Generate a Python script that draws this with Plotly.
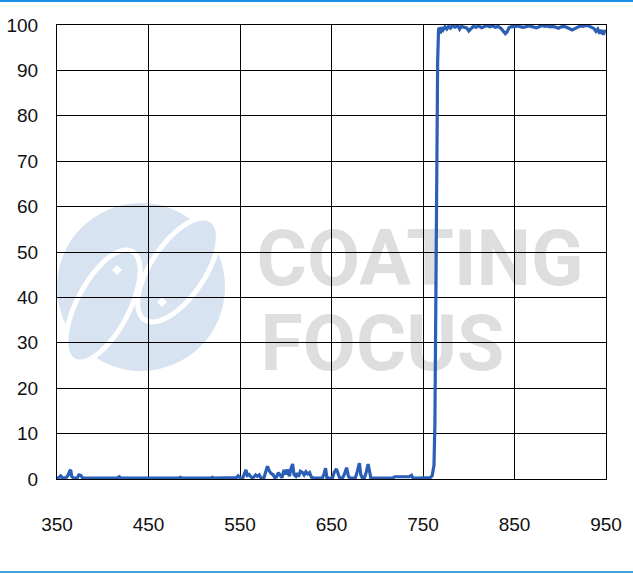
import numpy as np
import plotly.graph_objects as go

# ---------------- data ----------------
wavelength = [
    350, 352, 354, 356, 360, 362, 364, 365, 366, 368, 372, 374, 376, 378, 390,
    416, 418, 420, 450, 483, 485, 487, 518, 520, 522, 540, 546, 548, 550,
    553, 555, 556.5, 558, 560, 561, 563, 565, 567, 569, 571, 573, 576, 578, 580,
    582, 584, 586, 588, 590, 592, 594, 596, 598, 600, 602, 604, 606, 607.5, 609,
    611, 612.5, 614, 616, 618, 620, 622, 624, 626, 628, 631, 636, 640, 642,
    643.5, 645, 648, 651, 653, 655.5, 657.5, 659, 662, 664, 666.5, 668.5, 670,
    676, 678, 680.5, 682, 683.5, 686, 688, 690, 691.5, 693, 700,
    710, 717, 719, 730, 735, 737.5, 739, 745, 750, 758, 760, 761, 762, 763,
    764, 765, 766, 767,
    768, 769, 770, 772, 774, 776, 778, 780, 782, 785, 788, 790, 792, 795, 798,
    800, 802, 805, 808, 811, 814, 817, 820, 823, 826, 829, 832, 835, 838, 840,
    842, 844, 847, 850, 853, 856, 859, 862, 865, 868, 871, 874, 877, 880, 883,
    886, 889, 892, 895, 898, 901, 904, 907, 910, 913, 916, 919, 922, 925, 928,
    931, 934, 937, 939, 941, 943, 945, 947, 949, 950,
]
transmission = [
    0.2, 0.3, 0.7, 0.2, 0.3, 0.8, 1.8, 2.0, 0.6, 0.2, 0.2, 0.9, 0.8, 0.2, 0.2,
    0.2, 0.5, 0.2, 0.2, 0.2, 0.4, 0.2, 0.2, 0.4, 0.2, 0.2, 0.3, 0.7, 0.3,
    0.2, 1.2, 2.0, 0.8, 1.0, 0.7, 0.3, 0.4, 0.9, 0.6, 0.9, 0.2, 0.2, 1.5, 2.8,
    1.8, 1.2, 1.0, 0.3, 0.5, 1.4, 0.8, 0.3, 2.0, 1.0, 2.1, 0.6, 2.5, 3.3, 1.0,
    0.6, 1.3, 0.5, 1.7, 1.5, 0.9, 1.6, 1.1, 1.4, 0.4, 0.2, 0.2, 0.2, 1.2,
    2.4, 0.2, 0.2, 0.2, 1.5, 2.2, 1.0, 0.2, 0.2, 1.0, 2.5, 0.6, 0.2,
    0.2, 1.5, 3.5, 1.0, 0.3, 0.3, 1.5, 3.3, 1.2, 0.2, 0.2,
    0.2, 0.2, 0.5, 0.5, 0.5, 0.8, 0.2, 0.2, 0.3, 0.3, 0.7, 2.5, 3.0, 12,
    40, 70, 92, 99.0,
    99.4, 98.1, 99.5, 98.9, 99.6, 99.1, 99.7, 99.3, 99.8, 99.5, 99.9, 99.1, 99.7, 99.5, 99.3,
    98.7, 99.2, 99.7, 99.5, 99.8, 99.4, 99.7, 99.9, 99.6, 99.8, 99.5, 99.7, 99.3, 98.7, 98.1,
    98.5, 99.4, 99.7, 99.6, 99.8, 99.7, 99.5, 99.6, 99.8, 99.7, 99.5, 99.4, 99.6, 99.9, 99.7,
    99.8, 99.6, 99.7, 99.5, 99.3, 99.6, 99.7, 99.5, 99.2, 98.9, 99.2, 99.6, 99.8, 99.7, 99.9,
    99.8, 99.5, 99.2, 98.6, 99.1, 98.1, 98.9, 97.9, 98.8, 98.5,
]
x_ticks = [350, 450, 550, 650, 750, 850, 950]
y_ticks = [0, 10, 20, 30, 40, 50, 60, 70, 80, 90, 100]

# ---------------- geometry helpers (watermark decoration) ----------------
W, H = 633, 574
L, R, T, B = 57, 606, 25, 479


def px2paper(px, py):
    return (px - L) / (R - L), (B - py) / (B - T)


def ellipse_path(cx, cy, a, b, ang, n=72):
    t = np.linspace(0, 2 * np.pi, n, endpoint=False)
    th = np.deg2rad(ang)
    xs = cx + a * np.cos(t) * np.cos(th) - b * np.sin(t) * np.sin(th)
    ys = cy + a * np.cos(t) * np.sin(th) + b * np.sin(t) * np.cos(th)
    pts = [px2paper(x, y) for x, y in zip(xs, ys)]
    return "M " + " L ".join(f"{x:.4f},{y:.4f}" for x, y in pts) + " Z"


def diamond_path(cx, cy, r):
    pts = [px2paper(cx, cy - r), px2paper(cx + r, cy), px2paper(cx, cy + r), px2paper(cx - r, cy)]
    return "M " + " L ".join(f"{x:.4f},{y:.4f}" for x, y in pts) + " Z"


logo_blue = "#D7E3F0"
shapes = []
cx0, cy0 = px2paper(141 - 84, 287 + 84)
cx1, cy1 = px2paper(141 + 84, 287 - 84)
shapes.append(dict(type="circle", xref="paper", yref="paper", x0=cx0, y0=cy0,
                   x1=cx1, y1=cy1, fillcolor=logo_blue, line=dict(width=0), layer="below"))
for (cx, cy, a, b, ang) in [(178, 270, 60, 27, -56), (103, 306, 62, 26, -62)]:
    shapes.append(dict(type="path", xref="paper", yref="paper", path=ellipse_path(cx, cy, a, b, ang),
                       fillcolor=logo_blue, line=dict(color="white", width=5), layer="below"))
for (cx, cy) in [(117, 270), (162, 302)]:
    shapes.append(dict(type="path", xref="paper", yref="paper", path=diamond_path(cx, cy, 5),
                       fillcolor="white", line=dict(width=0), layer="below"))

# watermark text as shape labels (kept below gridlines)
for txt, (x0p, x1p, ycen) in [("COATING", (250, 590, 253)), ("FOCUS", (255, 510, 338))]:
    ax0, ay0 = px2paper(x0p, ycen + 35)
    ax1, ay1 = px2paper(x1p, ycen - 35)
    shapes.append(dict(type="rect", xref="paper", yref="paper", x0=ax0, y0=ay0, x1=ax1, y1=ay1,
                       line=dict(width=0), fillcolor="rgba(0,0,0,0)", layer="below",
                       label=dict(text=f"<b>{txt}</b>", textposition="middle center",
                                  font=dict(family="Roboto", size=77, color="#DEDEDE"))))

# decorative blue page rules
for py, col in [(1, "#1E8FE6"), (572, "#3CA3DF")]:
    xa, ya = px2paper(0, py)
    xb, _ = px2paper(W, py)
    shapes.append(dict(type="line", xref="paper", yref="paper", x0=xa, x1=xb, y0=ya, y1=ya,
                       line=dict(color=col, width=2), layer="above"))

# ---------------- figure ----------------
fig = go.Figure()
fig.add_trace(go.Scatter(x=wavelength, y=transmission, mode="lines",
                         line=dict(color="#2B5FB5", width=3.2), hoverinfo="x+y"))

tick_font = dict(family="Liberation Sans, Arial, sans-serif", size=19, color="#111111")
fig.update_layout(
    width=W, height=H,
    margin=dict(l=L, r=W - R, t=T, b=H - B, pad=0, autoexpand=False),
    paper_bgcolor="white", plot_bgcolor="white",
    showlegend=False,
    shapes=shapes,
    xaxis=dict(range=[350, 950], tickvals=x_ticks, ticktext=[str(v) for v in x_ticks],
               showgrid=True, gridcolor="#000000", gridwidth=1,
               showline=True, linecolor="#000000", linewidth=1, mirror=True,
               zeroline=False, ticks="outside", ticklen=28, tickcolor="rgba(0,0,0,0)",
               tickfont=tick_font, automargin=False),
    yaxis=dict(range=[0, 100], tickvals=y_ticks, ticktext=[str(v) for v in y_ticks],
               showgrid=True, gridcolor="#000000", gridwidth=1,
               showline=True, linecolor="#000000", linewidth=1, mirror=True,
               zeroline=False, ticks="outside", ticklen=14, tickcolor="rgba(0,0,0,0)",
               tickfont=tick_font, automargin=False),
)

fig.write_html(
    "out.html",
    config={"displayModeBar": False},
    post_script="document.body.style.margin='0';document.body.style.overflow='hidden';",
)
